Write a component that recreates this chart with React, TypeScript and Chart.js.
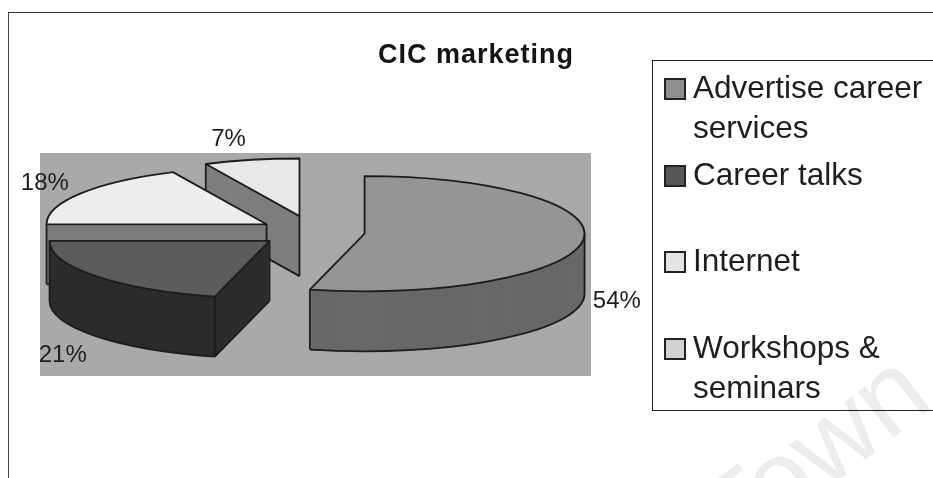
import React, { useEffect, useRef } from "react";
import { Chart, registerables } from "chart.js";

Chart.register(...registerables);

const chartTitle = "CIC marketing";
const categories = ["Advertise career services", "Career talks", "Internet", "Workshops & seminars"];
const shares = [54, 21, 18, 7];

const topColors = ["#959595", "#5c5c5c", "#ededed", "#e8e8e8"];
const sideColors = ["#686868", "#2c2c2c", "#7c7c7c", "#7e7e7e"];
const swatchColors = ["#8e8e8e", "#565656", "#e4e4e4", "#d2d2d2"];
const explodeBySlice = [52, 55, 55, 62];
const labelNudgeX = [34, -33, -36, -23];
const labelNudgeY = [60, 79, -10, -21];

const INK = "#1c1c1c";
const FONT = '"Liberation Sans", Arial, sans-serif';

// Tilted, exploded pie: each arc element is redrawn under a squashed transform,
// stacked downwards for the wall, and outlined at a constant pen width.
const tiltedPie = {
  id: "tiltedPie",
  beforeDraw(chart: any) {
    // Opened-up tracking for the title, which is painted before the datasets.
    chart.ctx.letterSpacing = "1px";
  },
  beforeDatasetsDraw(chart: any) {
    const { ctx, chartArea } = chart;
    ctx.letterSpacing = "0px";
    ctx.save();
    ctx.fillStyle = "#a9a9a9";
    ctx.fillRect(chartArea.left, chartArea.top, chartArea.width, chartArea.height);
    ctx.restore();
  },
  beforeDatasetDraw(chart: any, args: any, opts: any) {
    const { ctx } = chart;
    const arcs = args.meta.data;
    const { tilt, depth, shiftX, shiftY } = opts;

    for (let i = arcs.length - 1; i >= 0; i--) {
      const arc = arcs[i];
      const a0 = arc.startAngle;
      const a1 = arc.endAngle;
      const R = arc.outerRadius;
      const mid = (a0 + a1) / 2;
      const ax = arc.x + shiftX + Math.cos(mid) * explodeBySlice[i];
      const ay = arc.y + shiftY + Math.sin(mid) * explodeBySlice[i] * tilt;
      const rimX = (a: number) => ax + Math.cos(a) * R;
      const rimY = (a: number, dy: number) => ay + Math.sin(a) * R * tilt + dy;

      const project = (dy: number, body: () => void) => {
        ctx.save();
        ctx.translate(ax, ay + dy);
        ctx.scale(1, tilt);
        ctx.translate(-arc.x, -arc.y);
        body();
        ctx.restore();
      };

      // Wall: the same arc stacked from the bottom up in its darker tone.
      const faceOptions = arc.options;
      const wallOptions = Object.create(faceOptions);
      wallOptions.backgroundColor = sideColors[i];
      arc.options = wallOptions;
      for (let d = depth; d >= 1; d--) project(d, () => arc.draw(ctx));
      arc.options = faceOptions;
      project(0, () => arc.draw(ctx));

      ctx.save();
      ctx.strokeStyle = INK;
      ctx.lineWidth = 1.8;
      ctx.lineJoin = "round";

      // Outline of the top face.
      ctx.beginPath();
      project(0, () => {
        ctx.moveTo(arc.x, arc.y);
        ctx.arc(arc.x, arc.y, R, a0, a1);
        ctx.closePath();
      });
      ctx.stroke();

      // Lower rim, only where it faces the viewer.
      const lowFrom = Math.max(a0, 0);
      const lowTo = Math.min(a1, Math.PI);
      if (lowTo > lowFrom) {
        ctx.beginPath();
        project(depth, () => ctx.arc(arc.x, arc.y, R, lowFrom, lowTo));
        ctx.stroke();
      }

      // Vertical edges and the foot of any radial face that is in view.
      const startFaceShown = Math.cos(a0) < -1e-6;
      const endFaceShown = Math.cos(a1) > 1e-6;
      const uprights: number[] = [];
      if (startFaceShown || (Math.sin(a0) >= 0 && lowTo > lowFrom)) uprights.push(a0);
      if (endFaceShown || (Math.sin(a1) >= 0 && lowTo > lowFrom)) uprights.push(a1);
      if (a0 < 0 && a1 > 0) uprights.push(0);
      ctx.beginPath();
      uprights.forEach((a) => {
        ctx.moveTo(rimX(a), rimY(a, 0));
        ctx.lineTo(rimX(a), rimY(a, depth));
      });
      if (startFaceShown || endFaceShown) {
        ctx.moveTo(ax, ay);
        ctx.lineTo(ax, ay + depth);
      }
      if (startFaceShown) {
        ctx.moveTo(ax, ay + depth);
        ctx.lineTo(rimX(a0), rimY(a0, depth));
      }
      if (endFaceShown) {
        ctx.moveTo(ax, ay + depth);
        ctx.lineTo(rimX(a1), rimY(a1, depth));
      }
      ctx.stroke();
      ctx.restore();
    }
    return false;
  },
  afterDatasetsDraw(chart: any, _args: any, opts: any) {
    const { ctx } = chart;
    const arcs = chart.getDatasetMeta(0).data;
    const { tilt, shiftX, shiftY } = opts;
    ctx.save();
    ctx.fillStyle = "#1e1e1e";
    ctx.font = `24px ${FONT}`;
    ctx.textAlign = "center";
    ctx.textBaseline = "middle";
    arcs.forEach((arc: any, i: number) => {
      const mid = (arc.startAngle + arc.endAngle) / 2;
      const reach = arc.outerRadius + explodeBySlice[i];
      const x = arc.x + shiftX + Math.cos(mid) * reach + labelNudgeX[i];
      const y = arc.y + shiftY + Math.sin(mid) * reach * tilt + labelNudgeY[i];
      ctx.fillText(`${shares[i]}%`, x, y);
    });
    ctx.restore();
  },
  afterLayout(chart: any, _args: any, opts: any) {
    // The title is centred on the whole frame rather than on the plot.
    if (chart.titleBlock) {
      chart.titleBlock.left = 0;
      chart.titleBlock.right = opts.titleCentre * 2;
    }
  },
};

export default function App() {
  const canvasRef = useRef<HTMLCanvasElement>(null);

  useEffect(() => {
    const chart = new Chart(canvasRef.current as HTMLCanvasElement, {
      type: "pie",
      data: {
        labels: categories,
        datasets: [{ data: shares, backgroundColor: topColors, borderWidth: 0 }],
      },
      plugins: [tiltedPie],
      options: {
        responsive: false,
        animation: false,
        radius: 220,
        layout: { padding: { left: 40, right: 342, top: 0, bottom: 102 } },
        plugins: {
          legend: { display: false },
          tooltip: { enabled: false },
          title: {
            display: true,
            text: chartTitle,
            color: "#141414",
            font: { family: FONT, size: 27, weight: "bold" },
            padding: { top: 39, bottom: 81.6 },
          },
          tiltedPie: { tilt: 0.262, depth: 60, shiftX: -2.5, shiftY: -32.5, titleCentre: 476 },
        },
      } as any,
    });
    return () => chart.destroy();
  }, []);

  return (
    <div style={{ position: "fixed", left: 0, top: 0, width: 933, height: 478, overflow: "hidden", background: "#fff", fontFamily: FONT }}>
      <div
        style={{
          position: "absolute",
          left: 744,
          top: 466,
          fontSize: 110,
          lineHeight: "110px",
          color: "#ededed",
          transform: "rotate(-38deg)",
          transformOrigin: "left bottom",
          whiteSpace: "nowrap",
        }}
      >
        Town
      </div>
      <div style={{ position: "absolute", left: 8, top: 12, width: 960, height: 500, borderTop: "1.5px solid #333", borderLeft: "1.5px solid #444" }} />
      <canvas ref={canvasRef} width={933} height={478} style={{ position: "absolute", left: 0, top: 0, display: "block" }} />
      <div style={{ position: "absolute", left: 652, top: 60, width: 300, height: 349, border: "1.5px solid #222" }} />
      {categories.map((name, i) => {
        const top = 67 + i * 86.67;
        return (
          <React.Fragment key={name}>
            <div
              style={{
                position: "absolute",
                left: 664,
                top: top + 11,
                width: 18,
                height: 18,
                background: swatchColors[i],
                border: "2.5px solid #222",
              }}
            />
            <div style={{ position: "absolute", left: 693, top, width: 238, fontSize: 31.5, lineHeight: "40px", color: "#1e1e1e" }}>{name}</div>
          </React.Fragment>
        );
      })}
    </div>
  );
}
